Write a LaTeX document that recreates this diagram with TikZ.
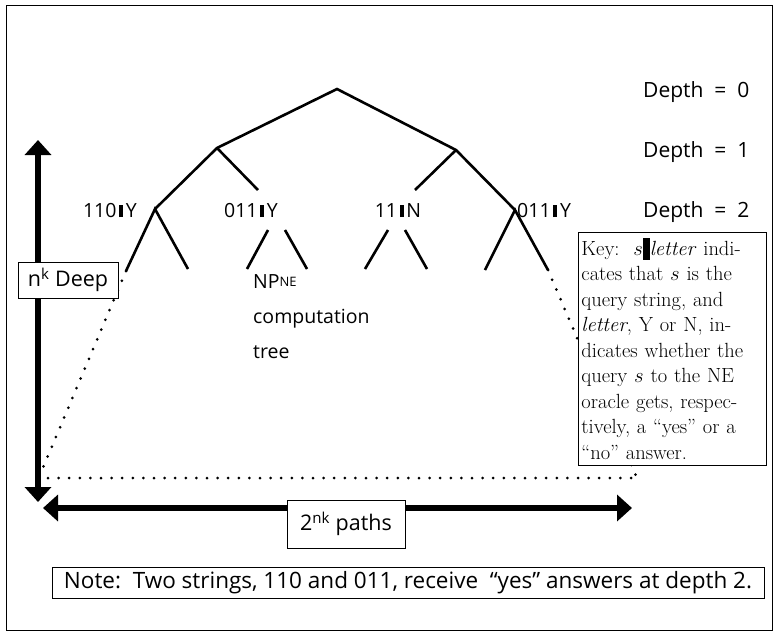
\documentclass[tikz,border=0pt]{standalone}
\usepackage{fontspec}
\setsansfont{Open Sans}
\usetikzlibrary{arrows.meta}

\newcommand{\qbar}{\hspace{0.14em}\rule{0.2em}{0.64em}\hspace{0.14em}}
\newcommand{\keybar}{\rule[-0.22em]{0.34em}{1.05em}}

\begin{document}
\begin{tikzpicture}[x=1pt, y=-1pt,
BranchStyle/.style={line width=2.6pt},
DotStyle/.style={line width=3pt, line cap=round, dash pattern=on 0pt off 10.6pt},
AxisStyle/.style={line width=6.5pt,
    {Triangle[length=15pt,width=26pt]}-{Triangle[length=15pt,width=26pt]}},
QueryStyle/.style={font=\sffamily\fontsize{19.5}{19.5}\selectfont, inner sep=0pt},
DepthStyle/.style={font=\sffamily\fontsize{21}{21}\selectfont, inner sep=0pt,
    anchor=base west},
BoxStyle/.style={draw, fill=white, line width=0.9pt, inner sep=2pt,
    font=\sffamily\fontsize{21.5}{21.5}\selectfont},]
\useasboundingbox (0,0) rectangle (776,632);
\draw[line width=0.8pt] (6,5) rectangle (772,630);

\coordinate (root) at (337,89);
\coordinate (d1l) at (217,148);
\coordinate (d1r) at (456,150);
\coordinate (d2a) at (155,209);
\coordinate (d2b) at (258,190);
\coordinate (d2c) at (415,190);
\coordinate (d2d) at (515,210);
\coordinate (a1) at (126,271);
\coordinate (a2) at (188,269);
\coordinate (b0) at (268,230);
\coordinate (b1) at (247,269);
\coordinate (b2) at (285,230);
\coordinate (b3) at (307,269);
\coordinate (c0) at (388,230);
\coordinate (c1) at (365,269);
\coordinate (c2) at (405,230);
\coordinate (c3) at (427,269);
\coordinate (e1) at (485,270);
\coordinate (e2) at (548,270);
\coordinate (lowleft) at (42,470);
\coordinate (lowstart) at (48,478);
\coordinate (lowright) at (637,478);
\coordinate (vtop) at (38,140);
\coordinate (vbot) at (38,502);
\coordinate (hleft) at (43,508);
\coordinate (hright) at (632,508);

\draw[BranchStyle] (d2a) -- (d1l) -- (root) -- (d1r) -- (d2d);
\draw[BranchStyle] (d1l) -- (d2b);
\draw[BranchStyle] (d1r) -- (d2c);
\draw[BranchStyle] (a1) -- (d2a) -- (a2);
\draw[BranchStyle] (b0) -- (b1);
\draw[BranchStyle] (b2) -- (b3);
\draw[BranchStyle] (c0) -- (c1);
\draw[BranchStyle] (c2) -- (c3);
\draw[BranchStyle] (e1) -- (d2d) -- (e2);

\draw[DotStyle] (a1) -- (lowleft);
\draw[DotStyle] (e2) -- (lowright);
\draw[DotStyle] (lowstart) -- (lowright);

\draw[AxisStyle] (vtop) -- (vbot);
\draw[AxisStyle] (hleft) -- (hright);

\node[QueryStyle, anchor=base east] (q1) at (137,217) {110\qbar Y};
\node[QueryStyle, anchor=base] (q2) at (251,217) {011\qbar Y};
\node[QueryStyle, anchor=base] (q3) at (398,217) {11\qbar N};
\node[QueryStyle, anchor=base west] (q4) at (517,217) {011\qbar Y};

\node[DepthStyle] (dep0) at (643,97) {Depth\ \ =\ \ 0};
\node[DepthStyle] (dep1) at (643,157) {Depth\ \ =\ \ 1};
\node[DepthStyle] (dep2) at (643,217) {Depth\ \ =\ \ 2};

\node[anchor=north west, align=left, inner sep=0pt,
      font=\sffamily\fontsize{19.5}{35}\selectfont] (tree) at (253,274)
     {NP\raisebox{0.1em}{\fontsize{13}{13}\selectfont NE}\\computation\\tree};

\node[BoxStyle] (deep) at (68,280) [minimum width=100pt, minimum height=36pt]
     {n\textsuperscript{k} Deep};
\node[BoxStyle] (paths) at (346,524) [minimum width=118pt, minimum height=48pt]
     {2\textsuperscript{nk} paths};
\node[BoxStyle] (note) at (408,582.5) [minimum width=712pt, minimum height=31pt,
      font=\sffamily\fontsize{22.5}{22.5}\selectfont, inner sep=0pt]
     {Note:\ \ Two strings, 110 and 011, receive\ \ ``yes'' answers at depth 2.};

\node[BoxStyle, anchor=north west, align=left, text width=182pt,
      inner xsep=3pt, inner ysep=3pt, minimum height=233pt,
      font=\rmfamily\fontsize{20.5}{25.5}\selectfont] (key) at (578,232)
     {\makebox[182pt][s]{Key:\ \ $s$\keybar\textit{letter} indi-}\\
      \makebox[182pt][s]{cates that $s$ is the}\\
      \makebox[182pt][s]{query string, and}\\
      \makebox[182pt][s]{\textit{letter}, Y or N, in-}\\
      \makebox[182pt][s]{dicates whether the}\\
      \makebox[182pt][s]{query $s$ to the NE}\\
      \makebox[182pt][s]{oracle gets, respec-}\\
      \makebox[182pt][s]{tively, a ``yes'' or a}\\
      ``no'' answer.};
\end{tikzpicture}
\end{document}
